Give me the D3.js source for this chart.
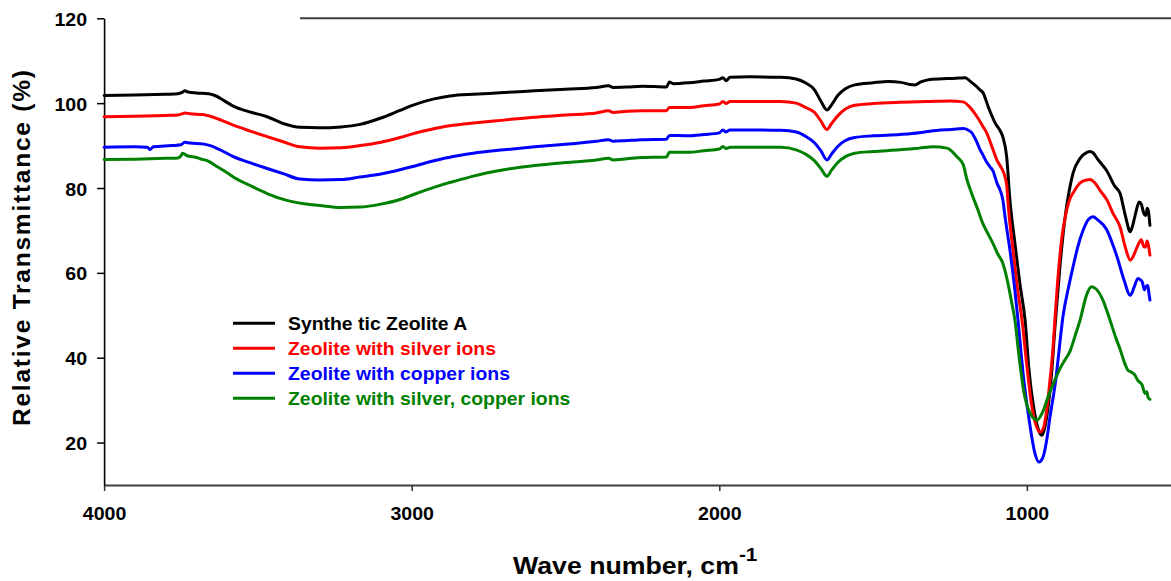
<!DOCTYPE html>
<html>
<head>
<meta charset="utf-8">
<script src="https://cdn.jsdelivr.net/npm/d3@7"></script>
<style>
  body { margin: 0; background: #fff; }
  svg { display: block; }
  text { font-family: Arial, "Liberation Sans", sans-serif; font-weight: bold; }
</style>
</head>
<body>
<svg id="chart" width="1171" height="581"></svg>
<script>
// FTIR spectra: [wave number (cm-1), relative transmittance (%)]
const syntheticZeoliteA = [
  [4000,101.8],[3900,101.9],[3800,102.1],[3760,102.2],[3745,102.6],[3738,102.9],[3725,102.6],[3700,102.4],
  [3660,102.2],[3640,101.8],[3610,100.6],[3580,99.3],[3530,98.0],[3470,96.8],[3418,95.2],[3363,94.3],
  [3300,94.2],[3230,94.4],[3168,95.0],[3100,96.5],[3038,98.3],[3000,99.4],[2950,100.6],[2900,101.4],
  [2850,101.9],[2800,102.1],[2700,102.5],[2600,102.9],[2500,103.3],[2400,103.7],[2360,104.1],[2345,103.7],
  [2300,103.8],[2250,104.0],[2172,103.8],[2162,105.0],[2150,104.6],[2100,104.8],[2050,105.2],[2000,105.6],
  [1988,106.0],[1978,105.3],[1965,106.1],[1900,106.2],[1800,106.1],[1750,105.7],[1720,104.8],[1690,103.1],
  [1670,100.5],[1650,98.4],[1635,99.6],[1615,101.8],[1590,103.4],[1560,104.3],[1500,104.8],[1450,105.1],
  [1410,104.9],[1380,104.4],[1364,104.3],[1345,105.0],[1315,105.6],[1260,105.8],[1220,105.9],[1200,106.0],
  [1185,105.2],[1165,104.0],[1152,103.1],[1143,102.5],[1125,99.0],[1103,95.3],[1087,93.5],[1078,92.0],
  [1066,87.5],[1055,77.0],[1039,67.0],[1022,57.0],[1006,48.9],[993,37.0],[975,27.0],[960,22.5],
  [951,21.7],[942,23.5],[930,29.0],[920,36.0],[909,47.0],[892,62.0],[876,73.0],[862,79.5],
  [850,83.5],[827,87.0],[805,88.4],[795,88.6],[785,88.3],[770,86.8],[740,84.0],[715,80.5],
  [697,78.7],[680,73.5],[664,69.7],[655,71.5],[645,74.5],[635,76.7],[628,76.2],[620,74.0],
  [614,73.5],[609,75.2],[605,74.5],[600,71.2]
];

const zeoliteSilver = [
  [4000,96.8],[3900,96.9],[3800,97.1],[3760,97.2],[3745,97.5],[3738,97.7],[3720,97.5],[3680,97.3],
  [3655,96.9],[3620,96.0],[3580,94.8],[3520,93.3],[3470,92.1],[3418,90.9],[3363,89.7],[3300,89.4],
  [3230,89.5],[3168,90.0],[3100,90.8],[3038,91.9],[3000,92.7],[2950,93.6],[2900,94.4],[2850,94.9],
  [2800,95.3],[2700,96.0],[2600,96.7],[2500,97.2],[2400,97.7],[2360,98.2],[2345,97.8],[2300,98.1],
  [2250,98.2],[2172,98.2],[2162,99.0],[2100,99.0],[2050,99.4],[2000,99.8],[1988,100.4],[1978,99.9],
  [1965,100.4],[1900,100.4],[1800,100.4],[1750,100.0],[1720,99.0],[1690,97.8],[1670,95.8],[1650,93.8],
  [1635,95.2],[1615,97.0],[1590,98.6],[1560,99.5],[1500,99.9],[1413,100.2],[1315,100.4],[1250,100.5],
  [1207,100.3],[1185,99.0],[1162,96.8],[1143,94.5],[1130,92.9],[1120,91.0],[1110,89.0],[1097,86.5],
  [1085,85.0],[1075,83.5],[1065,80.3],[1062,77.1],[1045,65.3],[1030,56.0],[1016,48.9],[1000,38.0],
  [985,29.0],[970,24.0],[957,22.5],[946,23.5],[935,28.0],[925,34.7],[916,41.5],[909,48.9],
  [900,58.0],[886,68.5],[873,74.0],[860,77.5],[850,78.8],[827,81.2],[805,81.9],[795,82.0],
  [780,81.3],[760,79.2],[740,77.2],[720,74.0],[697,70.8],[680,66.0],[664,63.0],[655,63.8],
  [645,65.5],[636,67.0],[628,67.8],[620,66.2],[614,66.1],[609,67.5],[605,66.5],[600,64.2]
];

const zeoliteCopper = [
  [4000,89.6],[3900,89.7],[3860,89.6],[3850,89.1],[3840,89.7],[3780,90.0],[3750,90.2],[3738,90.8],
  [3720,90.6],[3680,90.4],[3655,90.0],[3620,88.9],[3580,87.4],[3520,85.8],[3470,84.6],[3418,83.4],
  [3363,82.1],[3300,81.9],[3230,82.0],[3168,82.6],[3100,83.3],[3038,84.3],[3000,85.0],[2950,86.0],
  [2900,86.9],[2850,87.6],[2800,88.2],[2700,89.0],[2600,89.7],[2500,90.3],[2400,91.0],[2360,91.4],
  [2345,91.0],[2300,91.2],[2250,91.4],[2172,91.5],[2162,92.4],[2100,92.3],[2050,92.6],[2000,93.0],
  [1988,93.7],[1978,93.2],[1965,93.7],[1900,93.7],[1800,93.6],[1750,93.2],[1720,92.2],[1690,90.6],
  [1670,88.8],[1650,86.6],[1635,88.0],[1615,89.8],[1590,91.2],[1560,91.9],[1500,92.3],[1413,92.6],
  [1350,93.0],[1315,93.4],[1250,93.8],[1207,94.0],[1190,93.6],[1179,93.0],[1165,91.2],[1152,89.0],
  [1143,87.8],[1130,86.0],[1120,85.0],[1110,84.0],[1097,81.1],[1087,79.5],[1078,77.1],[1071,73.2],
  [1055,65.3],[1039,55.9],[1029,48.9],[1010,34.7],[990,24.0],[974,17.5],[961,15.4],[948,16.5],
  [937,20.0],[925,26.0],[905,35.5],[895,42.0],[883,49.6],[865,56.5],[850,61.4],[835,66.0],
  [817,70.1],[800,72.6],[785,73.2],[770,72.5],[740,70.1],[720,66.5],[707,63.8],[685,58.5],
  [664,54.7],[652,56.5],[639,58.7],[630,58.3],[625,57.9],[618,56.0],[612,56.8],[607,57.0],
  [603,55.0],[600,53.6]
];

const zeoliteSilverCopper = [
  [4000,86.7],[3900,86.8],[3800,87.0],[3760,87.1],[3750,87.6],[3745,88.2],[3730,87.6],[3700,87.2],
  [3688,86.9],[3660,86.3],[3632,85.0],[3600,83.6],[3580,82.6],[3520,80.4],[3470,78.7],[3412,77.2],
  [3350,76.3],[3300,75.9],[3230,75.4],[3168,75.5],[3100,76.2],[3038,77.3],[3000,78.3],[2950,79.6],
  [2900,80.8],[2850,81.8],[2800,82.8],[2700,84.3],[2600,85.3],[2500,86.0],[2400,86.6],[2360,87.0],
  [2345,86.6],[2300,86.9],[2250,87.2],[2172,87.3],[2162,88.4],[2100,88.4],[2050,88.8],[2000,89.2],
  [1988,89.8],[1978,89.3],[1965,89.6],[1900,89.6],[1800,89.6],[1750,89.0],[1720,88.0],[1690,86.4],
  [1670,84.6],[1650,82.8],[1635,84.2],[1615,86.0],[1590,87.4],[1560,88.2],[1500,88.6],[1413,89.0],
  [1350,89.4],[1305,89.7],[1260,89.4],[1250,89.0],[1228,87.4],[1207,85.5],[1195,82.0],[1179,78.6],
  [1160,75.0],[1143,71.6],[1125,69.0],[1110,66.9],[1095,64.5],[1078,62.2],[1060,57.0],[1051,53.6],
  [1039,48.9],[1025,40.0],[1010,32.0],[990,27.0],[967,25.3],[950,27.0],[930,31.0],[909,34.7],
  [892,37.5],[876,39.5],[860,41.5],[844,45.0],[827,48.9],[805,55.0],[790,56.7],[775,56.2],
  [753,53.6],[730,48.9],[710,44.5],[697,42.0],[681,38.5],[671,37.0],[660,36.6],[650,36.0],
  [639,34.6],[625,33.5],[616,31.6],[610,32.0],[606,30.6],[600,30.2]
];

const seriesNames = [
  "Synthe tic Zeolite A",
  "Zeolite with silver ions",
  "Zeolite with copper ions",
  "Zeolite with silver, copper ions"
];
const seriesData = [syntheticZeoliteA, zeoliteSilver, zeoliteCopper, zeoliteSilverCopper];
const seriesColors = ["#000000", "#ff0000", "#0000ff", "#008000"];

const waveNumberTicks = [4000, 3000, 2000, 1000];
const transmittanceTicks = [20, 40, 60, 80, 100, 120];

// ---- layout ----
const svg = d3.select("#chart");
const stretch = 1.09; // horizontal glyph stretch of the labels

const x = d3.scaleLinear().domain([4000, 500]).range([104.1, 1180.7]);
const y = d3.scaleLinear().domain([10, 120]).range([485, 18.3]);

svg.append("rect").attr("width", 1171).attr("height", 581).attr("fill", "#fff");

// top frame line
svg.append("line")
  .attr("x1", 300).attr("x2", 1171)
  .attr("y1", y(120)).attr("y2", y(120))
  .attr("stroke", "#404040").attr("stroke-width", 2);

// x axis
const xAxis = svg.append("g")
  .attr("transform", `translate(0,${y(10)})`)
  .call(d3.axisBottom(x).tickValues(waveNumberTicks).tickSize(6).tickSizeOuter(0).tickPadding(16).tickFormat(d3.format("d")));
xAxis.select(".domain").attr("stroke", "#404040").attr("stroke-width", 2);
xAxis.selectAll(".tick line").attr("stroke", "#303030").attr("stroke-width", 1.5);
xAxis.selectAll(".tick text")
  .attr("font-size", 18).attr("fill", "#000")
  .attr("font-family", 'Arial, "Liberation Sans", sans-serif').attr("font-weight", "bold")
  .attr("transform", `scale(${stretch},1)`);

// y axis
const yAxis = svg.append("g")
  .attr("transform", `translate(${x(4000)},0)`)
  .call(d3.axisLeft(y).tickValues(transmittanceTicks).tickSize(7).tickSizeOuter(0).tickPadding(10));
yAxis.select(".domain").attr("stroke", "#000").attr("stroke-width", 1.6);
yAxis.selectAll(".tick line").attr("stroke", "#000").attr("stroke-width", 1.5);
yAxis.selectAll(".tick text")
  .attr("font-size", 18).attr("fill", "#000")
  .attr("font-family", 'Arial, "Liberation Sans", sans-serif').attr("font-weight", "bold")
  .attr("x", -17 / stretch).attr("dy", "0.39em")
  .attr("transform", `scale(${stretch},1)`);

// spectra
const line = d3.line()
  .x(d => x(d[0]))
  .y(d => y(d[1]))
  .curve(d3.curveMonotoneX);

svg.append("g").selectAll("path")
  .data(seriesData)
  .join("path")
  .attr("d", line)
  .attr("fill", "none")
  .attr("stroke", (d, i) => seriesColors[i])
  .attr("stroke-width", 3)
  .attr("stroke-linejoin", "round")
  .attr("stroke-linecap", "round");

// legend
const legend = svg.append("g");
seriesNames.forEach((name, i) => {
  const ly = 323.3 + i * 25;
  legend.append("line")
    .attr("x1", 233).attr("x2", 275).attr("y1", ly).attr("y2", ly)
    .attr("stroke", seriesColors[i]).attr("stroke-width", 3);
  legend.append("text")
    .attr("transform", `translate(288,${ly + 6.4}) scale(${stretch},1)`)
    .attr("font-size", 17.8)
    .attr("fill", seriesColors[i])
    .text(name);
});

// axis titles
svg.append("text")
  .attr("transform", "translate(30,248) rotate(-90)")
  .attr("text-anchor", "middle")
  .attr("font-size", 24.5)
  .attr("textLength", 356)
  .attr("lengthAdjust", "spacing")
  .text("Relative Transmittance (%)");

const xTitle = svg.append("text")
  .attr("transform", `translate(513,574) scale(${stretch},1)`)
  .attr("font-size", 24.5);
xTitle.append("tspan").text("Wave number, cm");
xTitle.append("tspan").attr("dy", -13).attr("font-size", 19).text("-1");
</script>
</body>
</html>
